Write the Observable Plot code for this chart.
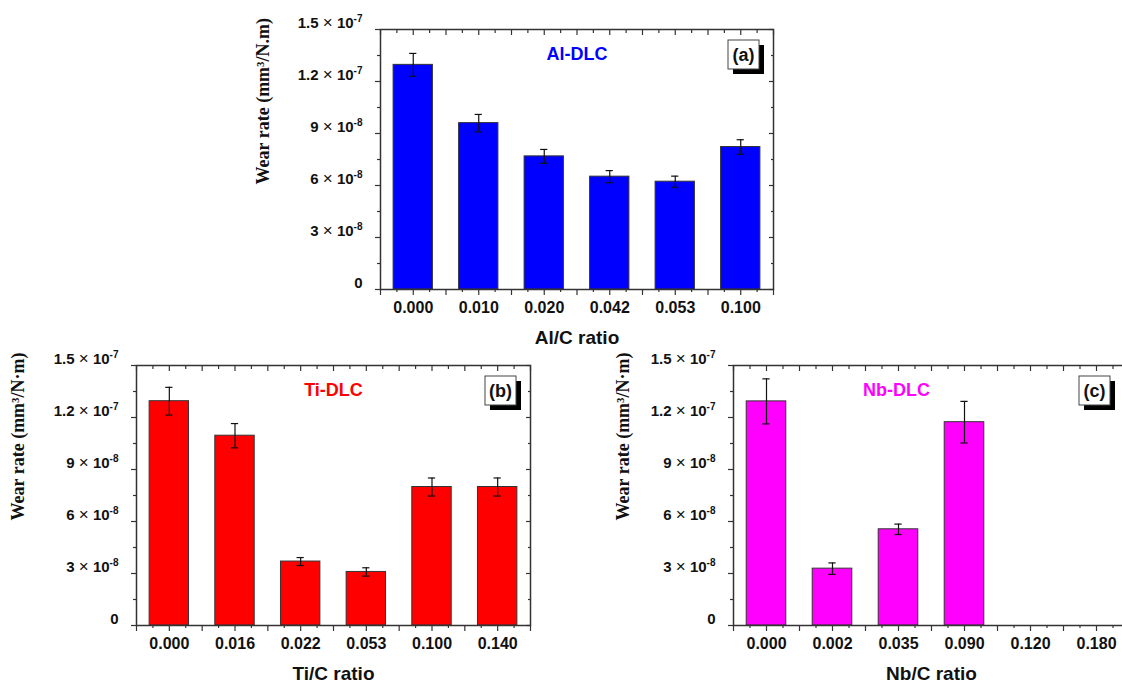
<!DOCTYPE html>
<html><head><meta charset="utf-8">
<script src="https://cdn.jsdelivr.net/npm/d3@7"></script>
<script src="https://cdn.jsdelivr.net/npm/@observablehq/plot@0.6"></script>
<style>
html,body{margin:0;padding:0;background:#fff;}
#page{position:relative;width:1122px;height:686px;overflow:hidden;background:#fff;}
.panel{position:absolute;}
</style></head><body><div id="page"></div>
<script>
// ---- data (wear rate in mm^3/N·m) ----
const alCategories = ["0.000","0.010","0.020","0.042","0.053","0.100"];
const alWear  = [12.96e-8, 9.60e-8, 7.68e-8, 6.51e-8, 6.22e-8, 8.22e-8];
const alError = [0.66e-8, 0.50e-8, 0.40e-8, 0.35e-8, 0.32e-8, 0.42e-8];

const tiCategories = ["0.000","0.016","0.022","0.053","0.100","0.140"];
const tiWear  = [12.94e-8, 10.95e-8, 3.69e-8, 3.09e-8, 7.99e-8, 7.99e-8];
const tiError = [0.80e-8, 0.70e-8, 0.23e-8, 0.24e-8, 0.52e-8, 0.52e-8];

const nbCategories = ["0.000","0.002","0.035","0.090","0.120","0.180"];
const nbWear  = [12.93e-8, 3.28e-8, 5.55e-8, 11.73e-8, null, null];
const nbError = [1.30e-8, 0.33e-8, 0.30e-8, 1.20e-8, null, null];

const yTickValues   = [0, 3e-8, 6e-8, 9e-8, 12e-8, 15e-8];
const yTickMantissa = ["0", "3", "6", "9", "1.2", "1.5"];
const yTickExponent = ["", "-8", "-8", "-8", "-7", "-7"];

const SANS = "'Liberation Sans', Arial, Helvetica, sans-serif";
const SERIF = "'Liberation Serif', 'Times New Roman', serif";
const INK = "#333";

function cornerBox(label, inset) {
  return (index, scales, values, dimensions) => {
    const {width, marginRight, marginTop} = dimensions;
    const w = 31, h = 29;
    const x = width - marginRight - inset - w, y = marginTop + 11;
    const g = d3.create("svg:g");
    g.append("rect").attr("x", x + 5).attr("y", y + 5).attr("width", w).attr("height", h).attr("fill", "#000");
    g.append("rect").attr("x", x).attr("y", y).attr("width", w).attr("height", h)
      .attr("fill", "#fff").attr("stroke", "#444").attr("stroke-width", 1);
    g.append("text").attr("x", x + w / 2).attr("y", y + h / 2).attr("dy", "0.36em")
      .attr("text-anchor", "middle").attr("font-family", SANS).attr("font-weight", "bold")
      .attr("font-size", 18).attr("fill", "#111").text(label);
    return g.node();
  };
}

function panel(cfg) {
  const {categories, values, errors, color, title, titleX, xLabel, yLabel, box, boxInset,
         left, top, marginLeft, marginRight, marginTop, marginBottom, frameWidth} = cfg;
  const n = categories.length;
  const rows = categories.map((c, i) => ({i, c, v: values[i], e: errors[i]})).filter(d => d.v != null);
  const half = d3.range(0, n + 0.001, 0.5);
  const quarter = d3.range(0.25, n, 0.5);
  const centers = d3.range(n).map(i => i + 0.5);
  const yMinor = d3.pairs(yTickValues).map(([a, b]) => (a + b) / 2);
  const capHalf = 0.055;
  const blank = () => "";
  const tickStyle = {stroke: INK, strokeWidth: 1.2, label: null};
  const width = marginLeft + frameWidth + marginRight;
  const height = marginTop + 260 + marginBottom;

  const plot = Plot.plot({
    width, height, marginLeft, marginRight, marginTop, marginBottom,
    style: {background: "none", overflow: "visible", maxWidth: "none", fontFamily: SANS, color: "#111"},
    x: {type: "linear", domain: [0, n], axis: null, label: null},
    y: {domain: [0, 15e-8], axis: null, label: null},
    marks: [
      Plot.rectY(rows, {x1: d => d.i + 0.2, x2: d => d.i + 0.8, y1: 0, y2: "v", fill: color, stroke: INK, strokeWidth: 1}),
      Plot.ruleX(rows, {x: d => d.i + 0.5, y1: d => d.v - d.e, y2: d => d.v + d.e, stroke: "#111", strokeWidth: 1.2}),
      Plot.ruleY(rows, {y: d => d.v + d.e, x1: d => d.i + 0.5 - capHalf, x2: d => d.i + 0.5 + capHalf, stroke: "#111", strokeWidth: 1.2}),
      Plot.ruleY(rows, {y: d => d.v - d.e, x1: d => d.i + 0.5 - capHalf, x2: d => d.i + 0.5 + capHalf, stroke: "#111", strokeWidth: 1.2}),
      Plot.frame({stroke: INK, strokeWidth: 1.5}),
      // bottom ticks (outward)
      Plot.axisX({anchor: "bottom", ticks: half, tickSize: 6, tickFormat: blank, ...tickStyle}),
      Plot.axisX({anchor: "bottom", ticks: quarter, tickSize: 3, tickFormat: blank, ...tickStyle}),
      // top ticks (inward)
      Plot.axisX({anchor: "top", ticks: half, tickSize: 5, dy: 5, tickFormat: blank, ...tickStyle}),
      Plot.axisX({anchor: "top", ticks: quarter, tickSize: 3, dy: 3, tickFormat: blank, ...tickStyle}),
      // left ticks (outward)
      Plot.axisY({anchor: "left", ticks: yTickValues, tickSize: 5, tickFormat: blank, ...tickStyle}),
      Plot.axisY({anchor: "left", ticks: yMinor, tickSize: 3, tickFormat: blank, ...tickStyle}),
      // right ticks (inward)
      Plot.axisY({anchor: "right", ticks: yTickValues, tickSize: 5, dx: -5, tickFormat: blank, ...tickStyle}),
      Plot.axisY({anchor: "right", ticks: yMinor, tickSize: 3, dx: -3, tickFormat: blank, ...tickStyle}),
      // tick labels
      Plot.axisX({anchor: "bottom", ticks: centers, tickSize: 0, tickPadding: 12, label: null,
        tickFormat: d => categories[Math.floor(d)], fontSize: 16, fontWeight: "bold", fill: "#111"}),
      Plot.axisY({anchor: "left", ticks: yTickValues, tickSize: 0, tickPadding: 18, dy: -6, label: null,
        tickFormat: d => { const k = yTickValues.indexOf(d); return yTickExponent[k] ? `${yTickMantissa[k]} × 10^${yTickExponent[k]}` : yTickMantissa[k]; },
        fontSize: 15, fontWeight: "bold", fill: "#111"}),
      // titles
      Plot.text([title], {x: titleX, frameAnchor: "top", dy: 25, lineAnchor: "middle", fill: color, fontSize: 18, fontWeight: "bold"}),
      Plot.text([xLabel], {x: n / 2, frameAnchor: "bottom", dy: 48, lineAnchor: "middle", fill: "#111", fontSize: 19, fontWeight: "bold"}),
      Plot.text([yLabel], {frameAnchor: "left", dx: cfg.yLabelDx, dy: 25, rotate: -90, fill: "#111",
        fontFamily: SERIF, fontSize: 18, fontWeight: "bold"}),
      cornerBox(box, boxInset)
    ]
  });

  // superscript exponents in y tick labels
  plot.querySelectorAll("text").forEach(t => {
    const s = t.textContent;
    if (!s.includes("^")) return;
    const [base, exp] = s.split("^");
    const [mant] = base.split("×");
    t.textContent = "";
    const ns = "http://www.w3.org/2000/svg";
    const add = (txt, attrs) => { const ts = document.createElementNS(ns, "tspan"); ts.textContent = txt; for (const k in attrs) ts.setAttribute(k, attrs[k]); t.appendChild(ts); return ts; };
    add(mant.trim() + " ", {});
    add("×", {"font-weight": "normal", "font-size": 17});
    add(" 10", {});
    add(exp, {"font-size": 10, "dy": -6});
  });

  const div = document.createElement("div");
  div.className = "panel";
  div.style.left = left + "px";
  div.style.top = top + "px";
  div.style.width = width + "px";
  div.appendChild(plot);
  document.getElementById("page").appendChild(div);
}

panel({categories: alCategories, values: alWear, errors: alError, color: "#0000FF",
  title: "Al-DLC", titleX: 3.0, xLabel: "Al/C ratio", yLabel: "Wear rate (mm³/N.m)", box: "(a)", boxInset: 14,
  left: 230, top: 0, marginLeft: 150, marginRight: 20, marginTop: 29, marginBottom: 65, frameWidth: 393, yLabelDx: -117});

panel({categories: tiCategories, values: tiWear, errors: tiError, color: "#FF0000",
  title: "Ti-DLC", titleX: 3.0, xLabel: "Ti/C ratio", yLabel: "Wear rate (mm³/N·m)", box: "(b)", boxInset: 14,
  left: 0, top: 336, marginLeft: 136, marginRight: 20, marginTop: 29, marginBottom: 61, frameWidth: 394, yLabelDx: -118});

panel({categories: nbCategories, values: nbWear, errors: nbError, color: "#FF00FF",
  title: "Nb-DLC", titleX: 2.47, xLabel: "Nb/C ratio", yLabel: "Wear rate (mm³/N·m)", box: "(c)", boxInset: 19,
  left: 590, top: 336, marginLeft: 143, marginRight: 20, marginTop: 29, marginBottom: 61, frameWidth: 396, yLabelDx: -110});
</script>
</body></html>
